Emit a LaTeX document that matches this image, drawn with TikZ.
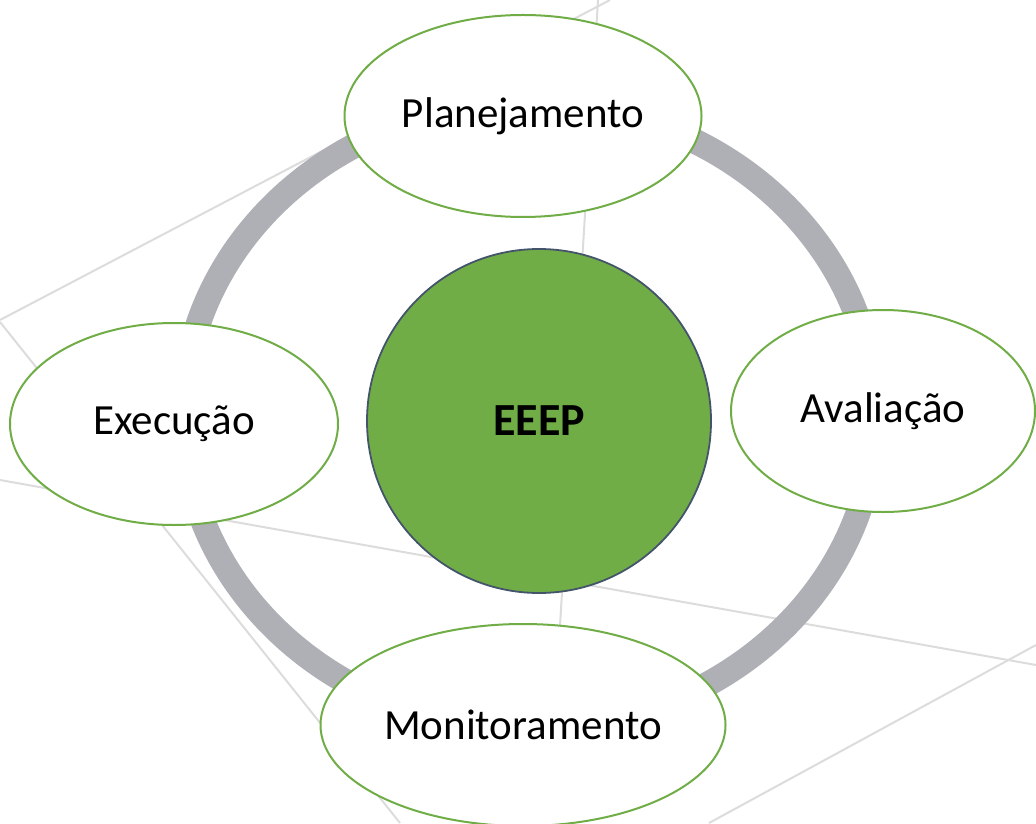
\documentclass[tikz,border=0pt]{standalone}
\usepackage{fontspec}
\setsansfont{Carlito}
\usetikzlibrary{
  shapes.geometric,
  positioning}
\definecolor{stagecolor}{RGB}{112,173,71}
\definecolor{hubcolor}{RGB}{112,173,71}
\definecolor{hubframecolor}{RGB}{68,84,106}
\definecolor{ringcolor}{RGB}{174,176,181}
\definecolor{gridcolor}{RGB}{220,220,220}
\tikzset{
  %% stage : one stage of the cycle
  stage/.style={
    ellipse,
    draw=stagecolor,
    line width=1pt,
    fill=white,
    minimum height=101pt,
    inner sep=0pt,
    font=\fontsize{21.5}{26}\selectfont,
    align=center
  },
  %% hub : the school in the middle
  hub/.style={
    circle,
    draw=hubframecolor,
    line width=0.9pt,
    fill=hubcolor,
    minimum size=172pt,
    font=\fontsize{23}{28}\selectfont\bfseries,
    align=center
  },
  %% ring : the cycle behind the stages
  ring/.style={ringcolor, line width=12.5pt},
  %% backline : faint lines in the background
  backline/.style={gridcolor, line width=1pt}
}

\begin{document}
\begin{tikzpicture}
  [x=0.5pt,
  y=-0.5pt]
  \sffamily

  \useasboundingbox (0, 0) rectangle (1036, 823);

  %% Background lines
  \draw [backline] (0, 320) -- (610, 0);
  \draw [backline] (0, 322) -- (400, 823);
  \draw [backline] (0, 480) -- (1036, 665);
  \draw [backline] (709, 823) -- (1036, 645);
  \draw [backline] (598, 0) -- (548, 823);

  %% Ring
  \coordinate (ringcenter) at (529, 416);
  \draw [ring] (ringcenter) ellipse [x radius=173pt, y radius=156.5pt];

  %% Hub
  \node (hub) [hub] at (539, 421) {EEEP};

  %% Stages
  \node (plan) [stage, minimum width=178.5pt] at (523, 116) {Planejamento};
  \node (aval) [stage, minimum width=152pt] at (883, 411) {Avaliação};
  \node (moni) [stage, minimum width=202.5pt] at (523, 725) {Monitoramento};
  \node (exec) [stage, minimum width=164pt] at (174, 424) {Execução};

\end{tikzpicture}
\end{document}
